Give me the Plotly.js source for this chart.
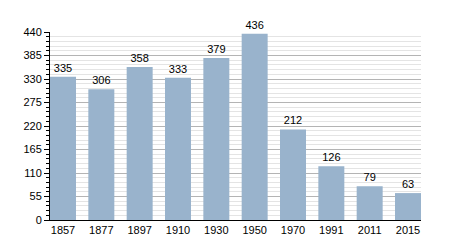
<!DOCTYPE html>
<html><head><meta charset="utf-8">
<script src="https://cdn.plot.ly/plotly-3.0.1.min.js"></script>
<style>html,body{margin:0;padding:0;background:#fff}#chart{width:450px;height:250px}</style>
</head><body><div id="chart"></div>
<script>
var years = ['1857','1877','1897','1910','1930','1950','1970','1991','2011','2015'];
var population = [335,306,358,333,379,436,212,126,79,63];
var yTicks = [0,55,110,165,220,275,330,385,440];

Plotly.newPlot('chart', [{
  type:'bar', x:years, y:population,
  marker:{color:'#99b3cc'},
  text:population.map(String), textposition:'outside',
  textfont:{family:'Liberation Sans, Arial, sans-serif', size:11, color:'#000'},
  cliponaxis:false, hoverinfo:'none'
}], {
  width:450, height:250,
  margin:{l:50, r:29, t:32, b:30},
  paper_bgcolor:'#fff', plot_bgcolor:'#fff',
  bargap:0.322,
  font:{family:'Liberation Sans, Arial, sans-serif', size:11, color:'#000'},
  xaxis:{type:'category', range:[-0.339, 9.339], showline:true, linecolor:'#000', linewidth:1, ticks:'', showgrid:false, tickfont:{size:11}},
  yaxis:{range:[0,440], tickvals:yTicks, ticktext:yTicks.map(String),
    showline:true, linecolor:'#000', linewidth:1, ticks:'outside', ticklen:5, tickcolor:'#000',
    showgrid:true, gridcolor:'#b4b4b4', gridwidth:1, zeroline:false,
    minor:{dtick:11, tick0:0, showgrid:true, gridcolor:'#e4e4e4', ticks:'outside', ticklen:3, tickcolor:'#000'},
    tickfont:{size:11}},
  showlegend:false
}, {staticPlot:true, displayModeBar:false});
</script></body></html>
